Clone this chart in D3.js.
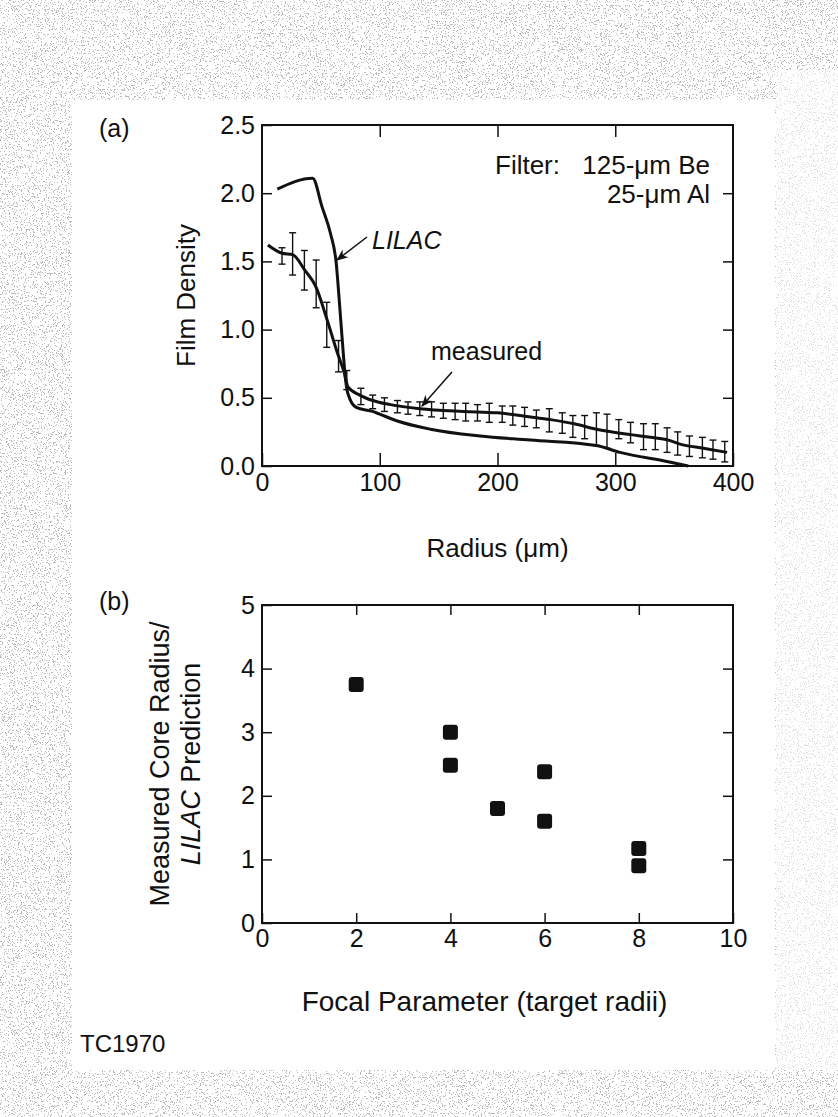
<!DOCTYPE html>
<html>
<head>
<meta charset="utf-8">
<script src="https://cdn.jsdelivr.net/npm/d3@7"></script>
<style>
  body { margin: 0; background: #fff; }
  svg text { font-family: "Liberation Sans", Arial, sans-serif; fill: #111; }
  .tick text { font-size: 25px; }
  .tick line { stroke: #111; stroke-width: 1.5; }
  .domain { display: none; }
</style>
</head>
<body>
<div id="svg-container"></div>
<script>
////////////////////////////////////////////////////////////////////
////////////////////////////  Data  ////////////////////////////////
// (a) film density vs radius
const lilacX = [13, 43, 51, 58, 63, 66, 69, 71, 73, 80, 94, 100, 115, 143, 185, 228, 284, 304, 346, 362];
const lilacY = [2.03, 2.11, 1.9, 1.71, 1.49, 1.17, 0.83, 0.63, 0.53, 0.43, 0.4, 0.38, 0.33, 0.27, 0.22, 0.19, 0.15, 0.1, 0.03, 0.0];

const measuredX = [5, 17, 26, 36, 46, 55, 64, 70, 73, 83, 94, 109, 134, 171, 200, 228, 245, 265, 284, 313, 330, 345, 355, 375, 395];
const measuredY = [1.62, 1.56, 1.55, 1.44, 1.31, 1.08, 0.83, 0.68, 0.58, 0.52, 0.48, 0.45, 0.42, 0.4, 0.39, 0.36, 0.34, 0.31, 0.27, 0.23, 0.21, 0.19, 0.16, 0.13, 0.1];

const errX = [17, 26, 36, 46, 55, 65, 72, 84, 94, 104, 115, 124, 134, 144, 154, 164, 173, 183, 193, 204, 213, 223, 233, 244, 255, 264, 274, 284, 293, 303, 313, 324, 334, 344, 353, 363, 374, 383, 393];
const errLo = [1.48, 1.4, 1.29, 1.16, 0.87, 0.69, 0.56, 0.45, 0.42, 0.4, 0.39, 0.38, 0.37, 0.36, 0.35, 0.34, 0.33, 0.33, 0.32, 0.32, 0.3, 0.29, 0.28, 0.25, 0.24, 0.21, 0.2, 0.15, 0.13, 0.2, 0.17, 0.12, 0.12, 0.1, 0.08, 0.07, 0.06, 0.05, 0.03];
const errHi = [1.6, 1.71, 1.58, 1.51, 1.2, 0.92, 0.7, 0.57, 0.52, 0.5, 0.48, 0.47, 0.47, 0.47, 0.46, 0.46, 0.46, 0.45, 0.46, 0.44, 0.44, 0.43, 0.41, 0.42, 0.39, 0.37, 0.37, 0.39, 0.38, 0.34, 0.32, 0.31, 0.31, 0.28, 0.25, 0.22, 0.21, 0.19, 0.18];

const densityTicks = [0, 0.5, 1.0, 1.5, 2.0, 2.5];
const radiusTicks = [0, 100, 200, 300, 400];

// (b) core radius ratio vs focal parameter
const focal = [2, 4, 4, 5, 6, 6, 8, 8];
const ratio = [3.75, 3.0, 2.48, 1.8, 2.38, 1.6, 1.17, 0.9];

const ratioTicks = [0, 1, 2, 3, 4, 5];
const focalTicks = [0, 2, 4, 6, 8, 10];

////////////////////////////////////////////////////////////////////
////////////////////////////  Init  ////////////////////////////////
const width = 838;
const height = 1117;

const svg = d3
  .select("#svg-container")
  .append("svg")
  .attr("width", width)
  .attr("height", height);

// stippled page border
const defs = svg.append("defs");
const grain = defs
  .append("filter")
  .attr("id", "grain")
  .attr("filterUnits", "userSpaceOnUse")
  .attr("x", 0)
  .attr("y", 0)
  .attr("width", width)
  .attr("height", height);
grain
  .append("feTurbulence")
  .attr("type", "fractalNoise")
  .attr("baseFrequency", 0.75)
  .attr("numOctaves", 2)
  .attr("seed", 7);
grain
  .append("feColorMatrix")
  .attr("type", "matrix")
  .attr("values", "0 0 0 0 0.5  0 0 0 0 0.5  0 0 0 0 0.5  4 0 0 0 -2.0");
grain
  .append("feComponentTransfer")
  .append("feFuncA")
  .attr("type", "discrete")
  .attr("tableValues", "0 1");

svg.append("rect").attr("width", width).attr("height", height).attr("fill", "#fff");
svg
  .append("rect")
  .attr("width", width)
  .attr("height", height)
  .attr("fill", "#fff")
  .attr("filter", "url(#grain)");
// lighter strip on the right
svg
  .append("rect")
  .attr("x", 776)
  .attr("y", 70)
  .attr("width", width - 776)
  .attr("height", 1000)
  .attr("fill", "#fff")
  .attr("opacity", 0.55);
// white page
svg
  .append("rect")
  .attr("x", 72)
  .attr("y", 100)
  .attr("width", 703)
  .attr("height", 970)
  .attr("fill", "#fff");

////////////////////////////////////////////////////////////////////
////////////////////////////  Panel (a)  ///////////////////////////
const boxA = { left: 262, right: 733, top: 125, bottom: 466 };

const xA = d3.scaleLinear().domain([0, 400]).range([boxA.left, boxA.right]);
const yA = d3.scaleLinear().domain([0, 2.5]).range([boxA.bottom, boxA.top]);

const gA = svg.append("g");

// axes, ticks point inward
gA.append("g")
  .attr("transform", `translate(0,${boxA.bottom})`)
  .call(d3.axisBottom(xA).tickValues(radiusTicks).tickSize(-13).tickSizeOuter(0).tickPadding(7));
gA.append("g")
  .attr("transform", `translate(${boxA.left},0)`)
  .call(
    d3.axisLeft(yA).tickValues(densityTicks).tickSize(-10).tickSizeOuter(0).tickPadding(7)
      .tickFormat(d3.format(".1f"))
  );
gA.append("g")
  .attr("transform", `translate(0,${boxA.top})`)
  .call(d3.axisTop(xA).tickValues(radiusTicks.slice(1, -1)).tickSize(-12).tickSizeOuter(0).tickFormat(""));
gA.append("g")
  .attr("transform", `translate(${boxA.right},0)`)
  .call(d3.axisRight(yA).tickValues(densityTicks.slice(1, -1)).tickSize(-10).tickSizeOuter(0).tickFormat(""));

gA.append("rect")
  .attr("x", boxA.left)
  .attr("y", boxA.top)
  .attr("width", boxA.right - boxA.left)
  .attr("height", boxA.bottom - boxA.top)
  .attr("fill", "none")
  .attr("stroke", "#111")
  .attr("stroke-width", 2);

// error bars
const capW = 3.5;
const bars = gA
  .selectAll("err-bars")
  .data(errX)
  .enter()
  .append("g")
  .attr("stroke", "#111")
  .attr("stroke-width", 1.4);
bars
  .append("line")
  .attr("x1", (d) => xA(d))
  .attr("x2", (d) => xA(d))
  .attr("y1", (d, i) => yA(errLo[i]))
  .attr("y2", (d, i) => yA(errHi[i]));
bars
  .append("line")
  .attr("x1", (d) => xA(d) - capW)
  .attr("x2", (d) => xA(d) + capW)
  .attr("y1", (d, i) => yA(errLo[i]))
  .attr("y2", (d, i) => yA(errLo[i]));
bars
  .append("line")
  .attr("x1", (d) => xA(d) - capW)
  .attr("x2", (d) => xA(d) + capW)
  .attr("y1", (d, i) => yA(errHi[i]))
  .attr("y2", (d, i) => yA(errHi[i]));

// curves
const lineA = d3
  .line()
  .curve(d3.curveMonotoneX)
  .x((d) => xA(d[0]))
  .y((d) => yA(d[1]));

gA.append("path")
  .datum(lilacX.map((d, i) => [d, lilacY[i]]))
  .attr("d", lineA)
  .attr("fill", "none")
  .attr("stroke", "#111")
  .attr("stroke-width", 3);

gA.append("path")
  .datum(measuredX.map((d, i) => [d, measuredY[i]]))
  .attr("d", lineA)
  .attr("fill", "none")
  .attr("stroke", "#111")
  .attr("stroke-width", 3);

// arrow heads
defs
  .append("marker")
  .attr("id", "arrow")
  .attr("viewBox", "0 0 10 10")
  .attr("refX", 9)
  .attr("refY", 5)
  .attr("markerWidth", 12)
  .attr("markerHeight", 12)
  .attr("markerUnits", "userSpaceOnUse")
  .attr("orient", "auto")
  .append("path")
  .attr("d", "M0,1 L10,5 L0,9 L3,5 Z")
  .attr("fill", "#111");

// labels + arrows
gA.append("text")
  .attr("x", 372)
  .attr("y", 249)
  .style("font-size", "25px")
  .style("font-style", "italic")
  .text("LILAC");
gA.append("line")
  .attr("x1", 367)
  .attr("y1", 237)
  .attr("x2", 337)
  .attr("y2", 260)
  .attr("stroke", "#111")
  .attr("stroke-width", 1.5)
  .attr("marker-end", "url(#arrow)");

gA.append("text")
  .attr("x", 431)
  .attr("y", 360)
  .style("font-size", "25px")
  .text("measured");
gA.append("line")
  .attr("x1", 452)
  .attr("y1", 372)
  .attr("x2", 422)
  .attr("y2", 406)
  .attr("stroke", "#111")
  .attr("stroke-width", 1.5)
  .attr("marker-end", "url(#arrow)");

gA.append("text")
  .attr("x", 560)
  .attr("y", 174)
  .attr("text-anchor", "end")
  .style("font-size", "26px")
  .text("Filter:");
gA.append("text")
  .attr("x", 710)
  .attr("y", 174)
  .attr("text-anchor", "end")
  .style("font-size", "26px")
  .text("125-\u03bcm Be");
gA.append("text")
  .attr("x", 710)
  .attr("y", 203)
  .attr("text-anchor", "end")
  .style("font-size", "26px")
  .text("25-\u03bcm Al");

// titles
gA.append("text")
  .attr("transform", `translate(195,${(boxA.top + boxA.bottom) / 2}) rotate(-90)`)
  .attr("text-anchor", "middle")
  .style("font-size", "26px")
  .text("Film Density");
gA.append("text")
  .attr("x", (boxA.left + boxA.right) / 2)
  .attr("y", 557)
  .attr("text-anchor", "middle")
  .style("font-size", "26px")
  .text("Radius (\u03bcm)");
gA.append("text")
  .attr("x", 99)
  .attr("y", 137)
  .style("font-size", "25px")
  .text("(a)");

////////////////////////////////////////////////////////////////////
////////////////////////////  Panel (b)  ///////////////////////////
const boxB = { left: 262, right: 733, top: 605, bottom: 923 };

const xB = d3.scaleLinear().domain([0, 10]).range([boxB.left, boxB.right]);
const yB = d3.scaleLinear().domain([0, 5]).range([boxB.bottom, boxB.top]);

const gB = svg.append("g");

gB.append("g")
  .attr("transform", `translate(0,${boxB.bottom})`)
  .call(d3.axisBottom(xB).tickValues(focalTicks).tickSize(-10).tickSizeOuter(0).tickPadding(6).tickFormat(d3.format("d")));
gB.append("g")
  .attr("transform", `translate(${boxB.left},0)`)
  .call(d3.axisLeft(yB).tickValues(ratioTicks).tickSize(-10).tickSizeOuter(0).tickPadding(7).tickFormat(d3.format("d")));
gB.append("g")
  .attr("transform", `translate(0,${boxB.top})`)
  .call(d3.axisTop(xB).tickValues(focalTicks.slice(1, -1)).tickSize(-10).tickSizeOuter(0).tickFormat(""));
gB.append("g")
  .attr("transform", `translate(${boxB.right},0)`)
  .call(d3.axisRight(yB).tickValues(ratioTicks.slice(1, -1)).tickSize(-10).tickSizeOuter(0).tickFormat(""));

gB.append("rect")
  .attr("x", boxB.left)
  .attr("y", boxB.top)
  .attr("width", boxB.right - boxB.left)
  .attr("height", boxB.bottom - boxB.top)
  .attr("fill", "none")
  .attr("stroke", "#111")
  .attr("stroke-width", 2);

// points
const sq = 15;
gB.selectAll("points")
  .data(focal)
  .enter()
  .append("rect")
  .attr("x", (d) => xB(d) - sq / 2)
  .attr("y", (d, i) => yB(ratio[i]) - sq / 2)
  .attr("width", sq)
  .attr("height", sq)
  .attr("rx", 3)
  .attr("fill", "#111");

// titles
const yTitle = gB
  .append("text")
  .attr("transform", `translate(169,${(boxB.top + boxB.bottom) / 2}) rotate(-90)`)
  .attr("text-anchor", "middle")
  .style("font-size", "27px");
yTitle.append("tspan").attr("x", 0).attr("y", 0).text("Measured Core Radius/");
const line2 = yTitle.append("tspan").attr("x", 0).attr("y", 31);
line2.append("tspan").style("font-style", "italic").text("LILAC");
line2.append("tspan").text(" Prediction");

gB.append("text")
  .attr("x", (boxB.left + boxB.right) / 2 - 13)
  .attr("y", 1011)
  .attr("text-anchor", "middle")
  .style("font-size", "28px")
  .text("Focal Parameter (target radii)");
gB.append("text")
  .attr("x", 99)
  .attr("y", 610)
  .style("font-size", "25px")
  .text("(b)");

svg.append("text")
  .attr("x", 80)
  .attr("y", 1052)
  .style("font-size", "24px")
  .text("TC1970");
</script>
</body>
</html>
